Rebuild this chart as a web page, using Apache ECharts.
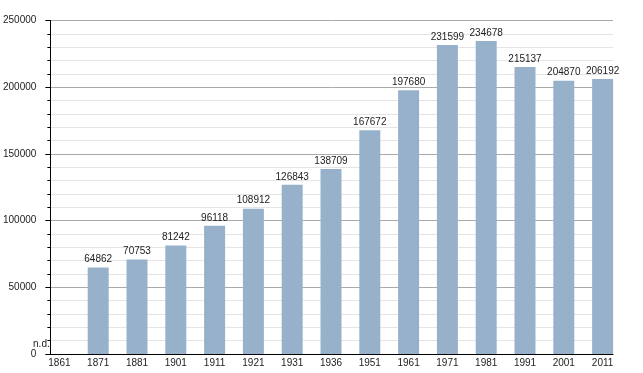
<!DOCTYPE html>
<html>
<head>
<meta charset="utf-8">
<script src="https://cdn.jsdelivr.net/npm/echarts@6/dist/echarts.min.js"></script>
<style>html,body{margin:0;padding:0;background:#fff}#c{width:643px;height:373px}</style>
</head>
<body>
<div id="c"></div>
<script>
var years = ['1861','1871','1881','1901','1911','1921','1931','1936','1951','1961','1971','1981','1991','2001','2011'];
var population = [null,64862,70753,81242,96118,108912,126843,138709,167672,197680,231599,234678,215137,204870,206192];
var yTicks = [0,50000,100000,150000,200000,250000];

var font = 'Liberation Sans, Arial, sans-serif';
var barData = population.map(function (v) {
  if (v === null) {
    return { value: 0, label: { show: true, formatter: 'n.d.', offset: [-18, -2] } };
  }
  return v;
});

var chart = echarts.init(document.getElementById('c'), null, { renderer: 'canvas' });
chart.setOption({
  animation: false,
  textStyle: { fontFamily: font },
  grid: [
    { left: 50, right: 30, top: 20.5, bottom: 19 },
    { left: 40, right: 21, top: 20.5, bottom: 19 }
  ],
  xAxis: [
    { gridIndex: 0, type: 'value', min: 0, max: 1,
      axisLine: { show: true, lineStyle: { color: '#000', width: 1 } },
      axisTick: { show: false }, axisLabel: { show: false }, splitLine: { show: false } },
    { gridIndex: 1, type: 'category', data: years,
      axisLine: { show: false }, axisTick: { show: false },
      axisLabel: { color: '#222', fontSize: 10, fontFamily: font, margin: 4, interval: 0 } }
  ],
  yAxis: [
    { gridIndex: 0, type: 'value', min: yTicks[0], max: yTicks[yTicks.length - 1], interval: 50000,
      axisLine: { show: true, lineStyle: { color: '#000', width: 1 } },
      axisTick: { show: true, length: 5, lineStyle: { color: '#000' } },
      minorTick: { show: true, splitNumber: 5, length: 3, lineStyle: { color: '#000' } },
      axisLabel: { color: '#222', fontSize: 10, fontFamily: font, margin: 14,
        formatter: function (v) { return String(v); } },
      splitLine: { show: true, lineStyle: { color: '#aaaaaa', width: 1 } },
      minorSplitLine: { show: true, lineStyle: { color: '#e4e4e4', width: 1 } } },
    { gridIndex: 1, type: 'value', min: yTicks[0], max: yTicks[yTicks.length - 1], show: false,
      splitLine: { show: false } }
  ],
  series: [{
    type: 'bar', xAxisIndex: 1, yAxisIndex: 1,
    data: barData, barWidth: 21,
    itemStyle: { color: '#98b1cb' },
    label: { show: true, position: 'top', distance: 3, color: '#222', fontSize: 10, fontFamily: font }
  }]
});
</script>
</body>
</html>
